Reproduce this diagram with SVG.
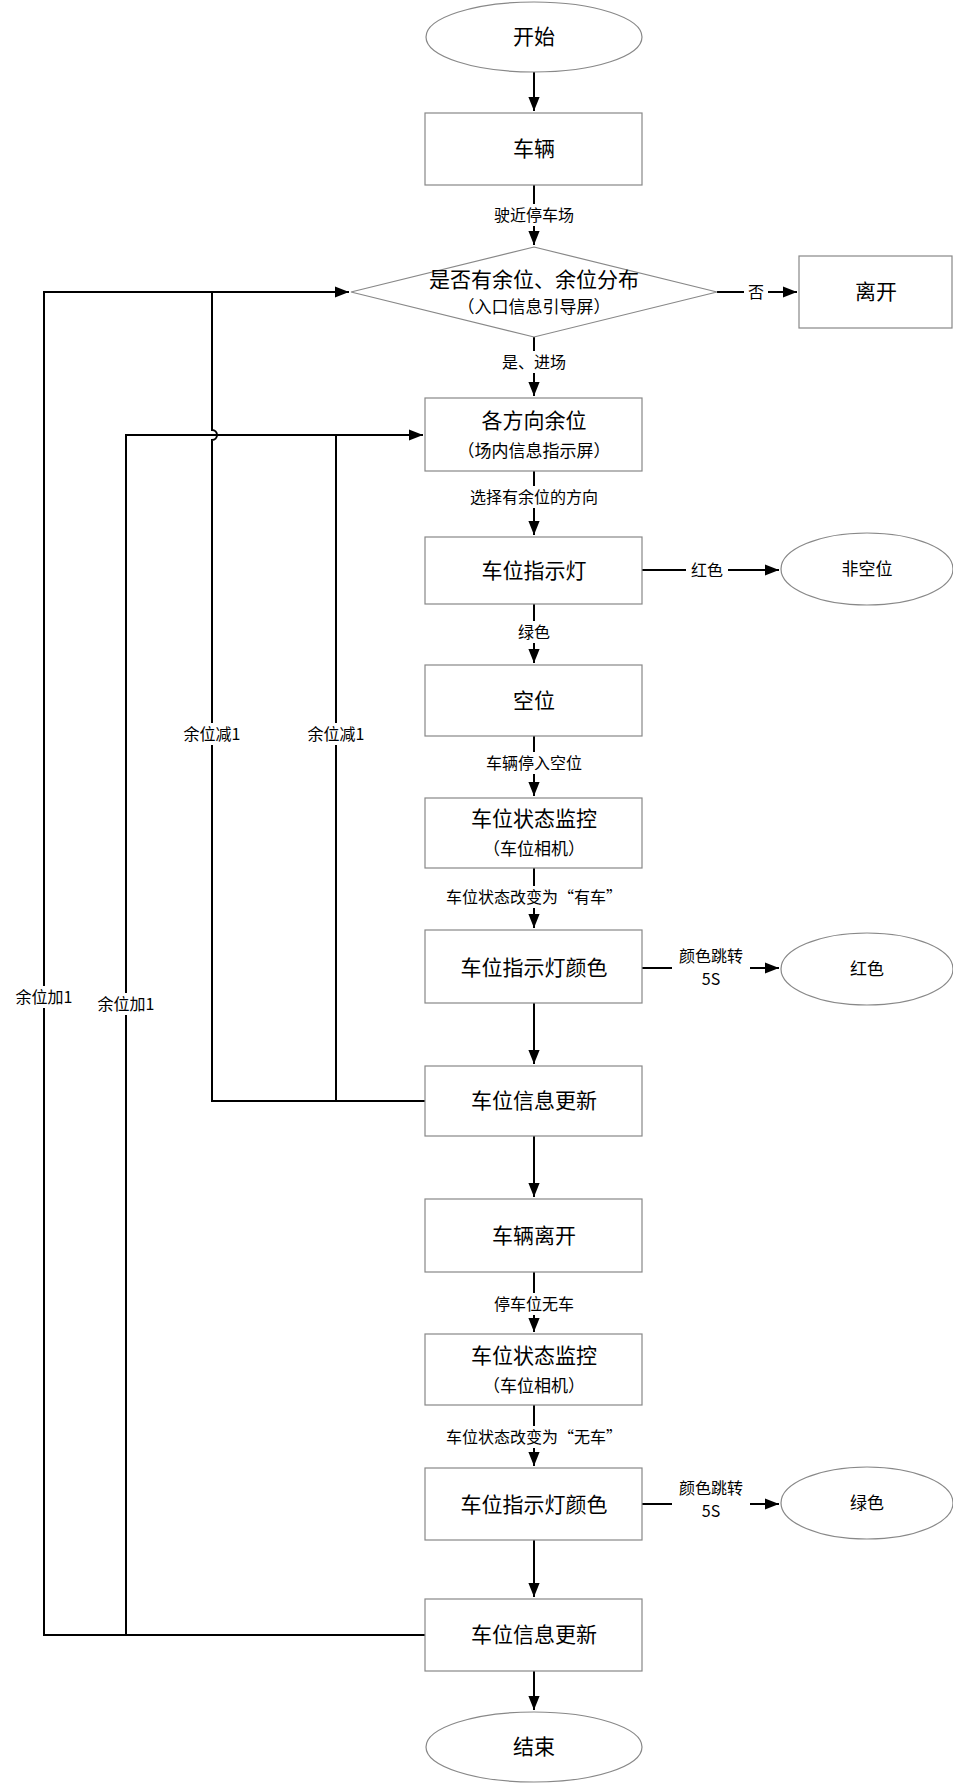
<svg xmlns="http://www.w3.org/2000/svg" width="953" height="1785" viewBox="0 0 953 1785">
<style>
.n{fill:#fff;stroke:#888;stroke-width:1.2}
.c{fill:none;stroke:#000;stroke-width:2}
text{font-family:"Noto Sans CJK SC","Noto Sans",sans-serif;text-anchor:middle;fill:#000}
.t{font-size:21px}
.s{font-size:17px}
.l{font-size:16px}
.bg{fill:#fff}
</style>
<defs><marker id="b" viewBox="0 0 10 10" refX="10" refY="5" markerWidth="14" markerHeight="14" orient="auto" markerUnits="userSpaceOnUse"><path d="M0,1L10,5L0,9z" fill="#000"/></marker></defs>
<g id="connectors">
<path class="c" d="M534,71V111" marker-end="url(#b)"/>
<path class="c" d="M534,185V245" marker-end="url(#b)"/>
<path class="c" d="M717,292H797" marker-end="url(#b)"/>
<path class="c" d="M534,337V396" marker-end="url(#b)"/>
<path class="c" d="M534,471V535" marker-end="url(#b)"/>
<path class="c" d="M642,570H779" marker-end="url(#b)"/>
<path class="c" d="M534,604V663" marker-end="url(#b)"/>
<path class="c" d="M534,736V796" marker-end="url(#b)"/>
<path class="c" d="M534,868V928" marker-end="url(#b)"/>
<path class="c" d="M642,968H779" marker-end="url(#b)"/>
<path class="c" d="M534,1003V1064" marker-end="url(#b)"/>
<path class="c" d="M534,1136V1197" marker-end="url(#b)"/>
<path class="c" d="M534,1272V1332" marker-end="url(#b)"/>
<path class="c" d="M534,1405V1466" marker-end="url(#b)"/>
<path class="c" d="M642,1504H779" marker-end="url(#b)"/>
<path class="c" d="M534,1540V1597" marker-end="url(#b)"/>
<path class="c" d="M534,1671V1710" marker-end="url(#b)"/>
<path class="c" d="M425,1101H212V440A4,4 0 0 0 212,430V292H349" marker-end="url(#b)"/>
<path class="c" d="M336,1101V435"/>
<path class="c" d="M425,1635H44V292H212"/>
<path class="c" d="M126,1635V435H423" marker-end="url(#b)"/>
<rect class="bg" x="474" y="204" width="120" height="22"/><text class="l" x="534" y="221">驶近停车场</text>
<rect class="bg" x="744" y="282" width="24" height="20"/><text class="l" x="756" y="298">否</text>
<rect class="bg" x="487" y="351" width="94" height="22"/><text class="l" x="534" y="368">是、进场</text>
<rect class="bg" x="452" y="486" width="164" height="22"/><text class="l" x="534" y="503">选择有余位的方向</text>
<rect class="bg" x="686" y="560" width="42" height="20"/><text class="l" x="707" y="576">红色</text>
<rect class="bg" x="513" y="621" width="42" height="22"/><text class="l" x="534" y="638">绿色</text>
<rect class="bg" x="470" y="752" width="128" height="22"/><text class="l" x="534" y="769">车辆停入空位</text>
<rect class="bg" x="420" y="886" width="228" height="22"/><text class="l" x="534" y="903">车位状态改变为“有车”</text>
<rect class="bg" x="672" y="946" width="78" height="44"/><text class="l" x="711" y="962">颜色跳转</text><text class="l" x="711" y="985">5S</text>
<rect class="bg" x="480" y="1293" width="108" height="22"/><text class="l" x="534" y="1310">停车位无车</text>
<rect class="bg" x="420" y="1426" width="228" height="22"/><text class="l" x="534" y="1443">车位状态改变为“无车”</text>
<rect class="bg" x="672" y="1478" width="78" height="44"/><text class="l" x="711" y="1494">颜色跳转</text><text class="l" x="711" y="1517">5S</text>
<rect class="bg" x="172" y="723" width="80" height="22"/><text class="l" x="212" y="740">余位减1</text>
<rect class="bg" x="296" y="723" width="80" height="22"/><text class="l" x="336" y="740">余位减1</text>
<rect class="bg" x="4" y="986" width="80" height="22"/><text class="l" x="44" y="1003">余位加1</text>
<rect class="bg" x="86" y="993" width="80" height="22"/><text class="l" x="126" y="1010">余位加1</text>
</g>
<g id="start"><ellipse class="n" cx="534" cy="37" rx="108" ry="35"/><text class="t" x="534" y="44">开始</text></g>
<g id="vehicle"><rect class="n" x="425" y="113" width="217" height="72"/><text class="t" x="534" y="156">车辆</text></g>
<g id="decision"><polygon class="n" points="534,247 717,292 534,337 351,292"/><text class="t" x="534" y="287">是否有余位、余位分布</text><text class="s" x="534" y="313">（入口信息引导屏）</text></g>
<g id="leave"><rect class="n" x="799" y="256" width="153" height="72"/><text class="t" x="876" y="299">离开</text></g>
<g id="direction"><rect class="n" x="425" y="398" width="217" height="73"/><text class="t" x="534" y="428">各方向余位</text><text class="s" x="534" y="457">（场内信息指示屏）</text></g>
<g id="light1"><rect class="n" x="425" y="537" width="217" height="67"/><text class="t" x="534" y="578">车位指示灯</text></g>
<g id="occupied"><ellipse class="n" cx="867" cy="569" rx="86" ry="36"/><text class="s" x="867" y="575">非空位</text></g>
<g id="empty"><rect class="n" x="425" y="665" width="217" height="71"/><text class="t" x="534" y="708">空位</text></g>
<g id="monitor1"><rect class="n" x="425" y="798" width="217" height="70"/><text class="t" x="534" y="826">车位状态监控</text><text class="s" x="534" y="855">（车位相机）</text></g>
<g id="color1"><rect class="n" x="425" y="930" width="217" height="73"/><text class="t" x="534" y="975">车位指示灯颜色</text></g>
<g id="red"><ellipse class="n" cx="867" cy="969" rx="86" ry="36"/><text class="s" x="867" y="975">红色</text></g>
<g id="update1"><rect class="n" x="425" y="1066" width="217" height="70"/><text class="t" x="534" y="1108">车位信息更新</text></g>
<g id="depart"><rect class="n" x="425" y="1199" width="217" height="73"/><text class="t" x="534" y="1243">车辆离开</text></g>
<g id="monitor2"><rect class="n" x="425" y="1334" width="217" height="71"/><text class="t" x="534" y="1363">车位状态监控</text><text class="s" x="534" y="1392">（车位相机）</text></g>
<g id="color2"><rect class="n" x="425" y="1468" width="217" height="72"/><text class="t" x="534" y="1512">车位指示灯颜色</text></g>
<g id="green"><ellipse class="n" cx="867" cy="1503" rx="86" ry="36"/><text class="s" x="867" y="1509">绿色</text></g>
<g id="update2"><rect class="n" x="425" y="1599" width="217" height="72"/><text class="t" x="534" y="1642">车位信息更新</text></g>
<g id="end"><ellipse class="n" cx="534" cy="1747" rx="108" ry="35"/><text class="t" x="534" y="1754">结束</text></g>
</svg>
